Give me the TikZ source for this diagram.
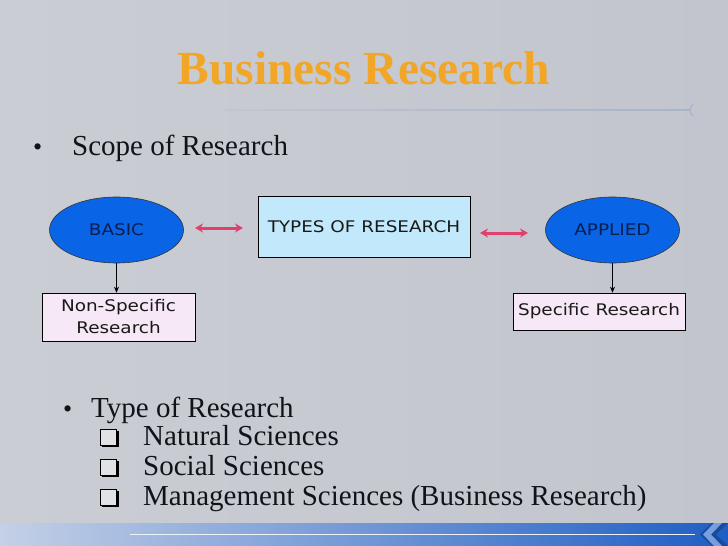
\documentclass[tikz,border=0pt]{standalone}
\usepackage{fontspec}
\setmainfont{Liberation Serif}
\newfontfamily\diagfont[FakeStretch=1.15]{DejaVu Sans}
\usetikzlibrary{arrows.meta,shapes.geometric,shadows}
\definecolor{bgc}{HTML}{C2C5CD}
\definecolor{bgl}{HTML}{CACDD4}
\definecolor{titleorange}{HTML}{F2A628}
\definecolor{ellblue}{HTML}{0A64E6}
\definecolor{navytext}{HTML}{0C1E50}
\definecolor{cyanbox}{HTML}{C2E8FC}
\definecolor{lavbox}{HTML}{F6E8F6}
\definecolor{pinkarrow}{HTML}{E2406C}
\definecolor{bandlight}{HTML}{C4D0E6}
\definecolor{banddark}{HTML}{1E5EC4}
\definecolor{bullettext}{HTML}{101418}
\definecolor{rulec}{HTML}{A6B4CA}
\tikzset{
  ellnode/.style={ellipse, draw=black!80, line width=0.6pt, fill=ellblue, minimum width=134pt, minimum height=66pt, inner sep=0pt, font=\diagfont\fontsize{16}{18}\selectfont, text=navytext},
  typebox/.style={draw=black, line width=0.6pt, fill=cyanbox, minimum width=212pt, minimum height=61pt, inner sep=0pt, font=\diagfont\fontsize{16}{18}\selectfont, text=black!90},
  resbox/.style={draw=black, line width=0.6pt, fill=lavbox, inner sep=0pt, font=\diagfont\fontsize{16}{22}\selectfont, text=black!90, align=center},
  pinkarr/.style={{Stealth[length=8pt,width=9pt]}-{Stealth[length=8pt,width=9pt]}, draw=pinkarrow, line width=3pt},
  downarr/.style={-{Stealth[length=6pt,width=5pt]}, draw=black, line width=0.7pt},
  bodytext/.style={anchor=base west, inner sep=0pt, font=\fontsize{29}{32}\selectfont, text=bullettext},
  chk/.style={draw=black, line width=1pt}
}
\begin{document}
\begin{tikzpicture}[x=1pt,y=-1pt]
% background
\useasboundingbox (0,0) rectangle (728,546);
\shade[left color=bgl, right color=bgc] (0,0) rectangle (728,546);
% bottom band
\shade[left color=bandlight, right color=banddark] (0,523) rectangle (728,546);
\draw[white!70!bandlight, line width=0.8pt] (130,534) -- (695,534);
\fill[banddark!80!black] (728,523) -- (712,523) -- (700,534.5) -- (712,546) -- (728,546) -- (716,534.5) -- cycle;
\fill[banddark!60!white] (722,523) -- (714,523) -- (703,534.5) -- (714,546) -- (722,546) -- (711,534.5) -- cycle;
% title rule
\shade[left color=bgc, right color=rulec] (225,109.6) rectangle (690,110.8);
\draw[rulec, line width=1pt] (693,104) .. controls (689,108) and (689,112) .. (693,116);
% title
\node[inner sep=0pt, anchor=base, font=\bfseries\fontsize{47.5}{50}\selectfont, text=titleorange] (title) at (364,84) {Business Research};
% bullet 1
\node[bodytext, font=\fontsize{26}{30}\selectfont] (b1) at (33,155) {\textbullet};
\node[bodytext] (scope) at (72,155) {Scope of Research};
% diagram
\node[ellnode] (basic) at (116.5,230) {BASIC};
\node[typebox] (types) at (364,226.5) {TYPES OF RESEARCH};
\node[ellnode] (applied) at (612.5,230) {APPLIED};
\node[resbox, minimum width=153pt, minimum height=48pt] (nonspec) at (118.5,317) {Non-Specific\\Research};
\node[resbox, minimum width=172pt, minimum height=37pt] (spec) at (599,311.5) {Specific Research};
\coordinate (a1l) at (195,228);
\coordinate (a1r) at (243,228);
\coordinate (a2l) at (480,233);
\coordinate (a2r) at (528,233);
\draw[pinkarr] (a1l) -- (a1r);
\draw[pinkarr] (a2l) -- (a2r);
\draw[downarr] (basic.south) -- (basic.south |- nonspec.north);
\draw[downarr] (applied.south) -- (applied.south |- spec.north);
% bullet 2
\node[bodytext, font=\fontsize{26}{30}\selectfont] (b2) at (63,417) {\textbullet};
\node[bodytext] (typeres) at (91,417) {Type of Research};
\foreach \yy/\txt/\nm in {445/Natural Sciences/n1, 475/Social Sciences/n2, 505/Management Sciences (Business Research)/n3}{
  \draw[black, line width=2pt] (102,\yy+1) -- (118,\yy+1) -- (118,\yy-14);
  \draw[chk, fill=white!50!bgc] (100,\yy-16) rectangle (116,\yy);
  \node[bodytext] (\nm) at (143,\yy) {\txt};
}
\end{tikzpicture}
\end{document}
